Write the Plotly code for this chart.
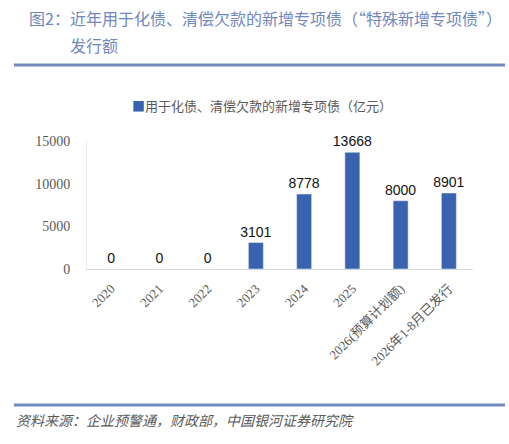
import plotly.graph_objects as go

categories = ["2020", "2021", "2022", "2023", "2024", "2025", "2026(预算计划额)", "2026年1-8月已发行"]
values = [0, 0, 0, 3101, 8778, 13668, 8000, 8901]
series_name = "用于化债、清偿欠款的新增专项债（亿元）"
y_ticks = [0, 5000, 10000, 15000]

W, H = 509, 444
L, R, T, B = 87, 36, 141, 175
pw, ph = W - L - R, H - T - B

def px(x):
    return (x - L) / pw

def py(y):
    return (H - B - y) / ph

bar_color = "#3A63AF"
fig = go.Figure()
fig.add_trace(go.Bar(
    x=categories, y=values, name=series_name,
    marker=dict(color=bar_color),
    text=[str(v) for v in values], textposition="outside",
    constraintext="none",
    textfont=dict(family="Liberation Sans, Arial", size=14, color="#111111"),
    cliponaxis=False,
    width=0.31,
    showlegend=False,
))

fig.update_layout(
    width=W, height=H,
    margin=dict(l=L, r=R, t=T, b=B),
    paper_bgcolor="white", plot_bgcolor="white",
    xaxis=dict(type="category", tickangle=-45, showline=True, linecolor="#D9D9D9",
               linewidth=1, ticks="", showgrid=False, ticklabelstandoff=6,
               tickfont=dict(family="Liberation Serif, Noto Sans CJK SC", size=13, color="#595959")),
    yaxis=dict(range=[0, 15000], tickvals=y_ticks, ticktext=[str(v) for v in y_ticks],
               showline=True, linecolor="#EBEBEB", ticklabelstandoff=13,
               showgrid=False, zeroline=False, ticks="",
               tickfont=dict(family="Liberation Serif", size=14, color="#595959")),
    font=dict(family="Noto Sans CJK SC"),
)

# legend (drawn as text for exact spacing)
fig.add_annotation(xref="paper", yref="paper", x=px(130), y=py(105), xanchor="left", yanchor="middle",
                   text=f'<span style="color:{bar_color}">■</span>{series_name}',
                   showarrow=False, font=dict(family="Noto Sans CJK SC", size=13, color="#595959"))

title_color = "#6F87BC"
fig.add_annotation(xref="paper", yref="paper", x=px(27), y=py(18), xanchor="left", yanchor="middle",
                   text="图2：近年用于化债、清偿欠款的新增专项债（“特殊新增专项债”）",
                   showarrow=False, font=dict(family="Noto Sans CJK SC", size=16, color=title_color))
fig.add_annotation(xref="paper", yref="paper", x=px(68), y=py(45), xanchor="left", yanchor="middle",
                   text="发行额", showarrow=False,
                   font=dict(family="Noto Sans CJK SC", size=16, color=title_color))
fig.add_annotation(xref="paper", yref="paper", x=px(14), y=py(420), xanchor="left", yanchor="middle",
                   text="<i>资料来源：企业预警通，财政部，中国银河证券研究院</i>", showarrow=False,
                   font=dict(family="Noto Sans CJK SC", size=14, color="#595959"))

line_color = "#7189BF"
for yy in (65, 405):
    fig.add_shape(type="line", xref="paper", yref="paper", x0=px(14), x1=px(505),
                  y0=py(yy), y1=py(yy), line=dict(color=line_color, width=3))

fig.write_html("out.html")
